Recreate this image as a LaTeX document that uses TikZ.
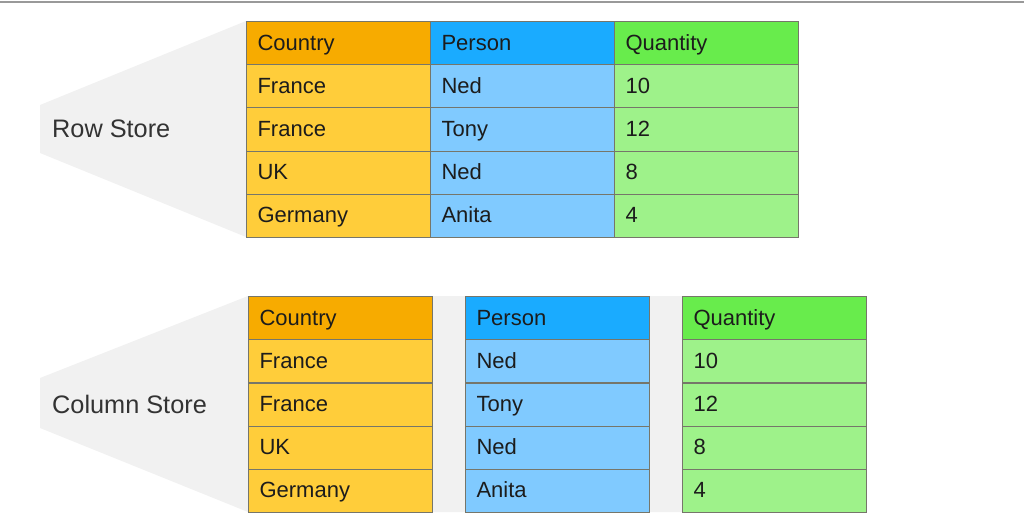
\documentclass[tikz,border=0pt]{standalone}
\usepackage{fontspec}
\setmainfont{Liberation Sans}
\definecolor{ctryhead}{HTML}{F7AB00}
\definecolor{ctrybody}{HTML}{FFCD3A}
\definecolor{perhead}{HTML}{1AABFF}
\definecolor{perbody}{HTML}{80CAFF}
\definecolor{qtyhead}{HTML}{68EC4C}
\definecolor{qtybody}{HTML}{9EF28A}
\definecolor{cellline}{HTML}{76766A}
\definecolor{shadowgray}{HTML}{F1F1F1}
\definecolor{inktext}{HTML}{1C1C1C}
\tikzset{
  cell/.style={draw=cellline, line width=1.1pt, anchor=north west,
    minimum width=184pt, minimum height=43.2pt, text width=162pt,
    inner xsep=11pt, inner ysep=0pt, text height=18pt, text depth=4pt,
    align=left, text=inktext, font=\fontsize{22}{26}\selectfont},
  storelabel/.style={anchor=base west, inner sep=0pt, text=inktext!90,
    font=\fontsize{25.3}{30}\selectfont}
}
\begin{document}
\begin{tikzpicture}[x=1pt, y=-1pt]
  \useasboundingbox (0,0) rectangle (1024,529);
  \draw[line width=1.5pt, gray!80] (0,2) -- (1024,2); % top rule

  % shadows
  \fill[shadowgray] (40,105) -- (246,21) -- (246,237) -- (40,153) -- cycle;
  \fill[shadowgray] (40,378) -- (248,296) -- (866,296) -- (866,512) -- (248,512) -- (40,428) -- cycle;

  % row store
  \node[storelabel] (rowlbl) at (52,138) {Row Store};
  \node[cell, fill=ctryhead] (rc0) at (246,21.0) {Country};
  \node[cell, fill=ctrybody] (rc1) at (246,64.2) {France};
  \node[cell, fill=ctrybody] (rc2) at (246,107.4) {France};
  \node[cell, fill=ctrybody] (rc3) at (246,150.6) {UK};
  \node[cell, fill=ctrybody] (rc4) at (246,193.8) {Germany};
  \node[cell, fill=perhead] (rp0) at (430,21.0) {Person};
  \node[cell, fill=perbody] (rp1) at (430,64.2) {Ned};
  \node[cell, fill=perbody] (rp2) at (430,107.4) {Tony};
  \node[cell, fill=perbody] (rp3) at (430,150.6) {Ned};
  \node[cell, fill=perbody] (rp4) at (430,193.8) {Anita};
  \node[cell, fill=qtyhead] (rq0) at (614,21.0) {Quantity};
  \node[cell, fill=qtybody] (rq1) at (614,64.2) {10};
  \node[cell, fill=qtybody] (rq2) at (614,107.4) {12};
  \node[cell, fill=qtybody] (rq3) at (614,150.6) {8};
  \node[cell, fill=qtybody] (rq4) at (614,193.8) {4};

  % column store
  \node[storelabel] (collbl) at (52,413) {Column Store};
  \node[cell, fill=ctryhead] (cc0) at (248,296.0) {Country};
  \node[cell, fill=ctrybody] (cc1) at (248,339.2) {France};
  \node[cell, fill=ctrybody] (cc2) at (248,382.4) {France};
  \node[cell, fill=ctrybody] (cc3) at (248,425.6) {UK};
  \node[cell, fill=ctrybody] (cc4) at (248,468.8) {Germany};
  \node[cell, fill=perhead] (cp0) at (465,296.0) {Person};
  \node[cell, fill=perbody] (cp1) at (465,339.2) {Ned};
  \node[cell, fill=perbody] (cp2) at (465,382.4) {Tony};
  \node[cell, fill=perbody] (cp3) at (465,425.6) {Ned};
  \node[cell, fill=perbody] (cp4) at (465,468.8) {Anita};
  \node[cell, fill=qtyhead] (cq0) at (682,296.0) {Quantity};
  \node[cell, fill=qtybody] (cq1) at (682,339.2) {10};
  \node[cell, fill=qtybody] (cq2) at (682,382.4) {12};
  \node[cell, fill=qtybody] (cq3) at (682,425.6) {8};
  \node[cell, fill=qtybody] (cq4) at (682,468.8) {4};
\end{tikzpicture}
\end{document}
